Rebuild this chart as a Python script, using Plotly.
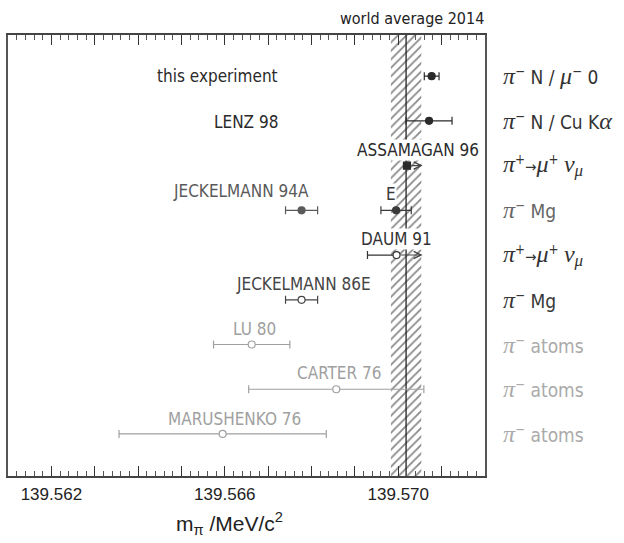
import plotly.graph_objects as go

# ---------------- data ----------------
experiments = ["this experiment", "LENZ 98", "ASSAMAGAN 96", "JECKELMANN 94A", "E",
               "DAUM 91", "JECKELMANN 86E", "LU 80", "CARTER 76", "MARUSHENKO 76"]
row_index = [0, 1, 2, 3, 3, 4, 5, 6, 7, 8]
mass = [139.57077, 139.57071, 139.57020, 139.56777, 139.56995,
        139.56996, 139.56777, 139.56662, 139.56857, 139.56595]
err_minus = [0.00017, 0.00053, 0.0, 0.00037, 0.00035,
             0.00067, 0.00037, 0.00088, 0.00202, 0.00239]
err_plus = [0.00017, 0.00053, 0.0, 0.00037, 0.00035,
            0.0, 0.00037, 0.00088, 0.00202, 0.00239]
arrow_to = [None, None, 139.57056, None, None, 139.57056, None, None, None, None]
filled = [True, True, True, True, True, False, False, False, False, False]

methods = ["π⁻ N / μ⁻ 0", "π⁻ N / Cu Kα", "π⁺→μ⁺ν_μ", "π⁻ Mg", "π⁺→μ⁺ν_μ",
           "π⁻ Mg", "π⁻ atoms", "π⁻ atoms", "π⁻ atoms"]

world_avg = 139.57018
world_err = 0.00035

tick_labels = ["139.562", "139.566", "139.570"]

# ---------------- styling / layout ----------------
X_RANGE = [139.561, 139.572]
Y_RANGE = [8.94, -0.92]
NARROW = "Liberation Sans Narrow, DejaVu Sans Condensed, Arial Narrow, sans-serif"
SANS = "Liberation Sans, Arial, sans-serif"
SERIF_I = "font-family:Liberation Serif, Times New Roman, serif;font-style:italic;font-size:24px"

exp_colors = ["#2a2a2a", "#2a2a2a", "#2a2a2a", "#5a5a5a", "#3a3a3a",
              "#333333", "#454545", "#a0a0a0", "#a0a0a0", "#a0a0a0"]
symbols = ["circle", "circle", "square", "circle", "circle",
           "circle", "circle", "circle", "circle", "circle"]
label_x = [139.56582, 139.56649, 139.57045, 139.56637, 139.56983,
           139.56996, 139.56782, 139.56669, 139.56863, 139.56623]
label_yshift = [0, -1, 16, 19, 16, 16, 16, 16, 16, 15]
label_bg = [None, None, "white", None, "white", "white", None, None, None, None]

method_colors = ["#333333", "#333333", "#333333", "#666666", "#333333",
                 "#383838", "#aaaaaa", "#aaaaaa", "#aaaaaa"]


def method_html(m):
    pi = f"<span style='{SERIF_I}'>π</span>"
    mu = f"<span style='{SERIF_I}'>μ</span>"
    nu = f"<span style='{SERIF_I}'>ν</span>"
    mus = "<span style='font-family:Liberation Serif, serif;font-style:italic;font-size:17px'>μ</span>"
    if m.startswith("π⁺"):
        return f"{pi}<sup>+</sup><span style='font-size:15px'>→</span>{mu}<sup>+</sup> {nu}<sub>{mus}</sub>"
    rest = m[2:]
    rest = rest.replace("μ⁻", f"{mu}<sup>−</sup>").replace("Kα", f"K<span style='{SERIF_I}'>α</span>")
    return f"{pi}<sup>−</sup>{rest}"


fig = go.Figure()

# hatched world-average band
lo, hi = world_avg - world_err, world_avg + world_err
fig.add_trace(go.Scatter(
    x=[lo, hi, hi, lo, lo], y=[Y_RANGE[1], Y_RANGE[1], Y_RANGE[0], Y_RANGE[0], Y_RANGE[1]],
    mode="lines", line=dict(width=0, color="rgba(0,0,0,0)"),
    fill="toself", fillcolor="white",
    fillpattern=dict(shape="/", size=6, solidity=0.3, fgcolor="#111111", bgcolor="white"),
    hoverinfo="skip", showlegend=False))
fig.add_trace(go.Scatter(
    x=[world_avg, world_avg], y=[Y_RANGE[1], Y_RANGE[0]], mode="lines",
    line=dict(color="#222222", width=1.3), hoverinfo="skip", showlegend=False))

# measurements
for i, name in enumerate(experiments):
    c = exp_colors[i]
    has_err = err_minus[i] > 0 or err_plus[i] > 0
    fig.add_trace(go.Scatter(
        x=[mass[i]], y=[row_index[i]], mode="markers", name=name,
        marker=dict(symbol=symbols[i], size=7,
                    color=c if filled[i] else "white",
                    line=dict(color=c, width=1.2)),
        error_x=dict(type="data", symmetric=False, array=[err_plus[i]],
                     arrayminus=[err_minus[i]], color=c, thickness=1.2, width=4,
                     visible=has_err),
        showlegend=False))

annotations = []
# arrows for the pi+ -> mu+ nu limits
for i, end in enumerate(arrow_to):
    if end is None:
        continue
    annotations.append(dict(
        x=end, y=row_index[i], xref="x", yref="y", ax=mass[i], ay=row_index[i],
        axref="x", ayref="y", text="", showarrow=True, arrowhead=5, arrowsize=1.3,
        arrowwidth=1.1, arrowcolor="#444444", standoff=0, startstandoff=3))

# experiment labels
for i, name in enumerate(experiments):
    a = dict(x=label_x[i], y=row_index[i], xref="x", yref="y", text=name,
             showarrow=False, yshift=label_yshift[i], xanchor="center", yanchor="middle",
             font=dict(family=NARROW, size=17, color=exp_colors[i]), borderpad=0)
    if label_bg[i]:
        a["bgcolor"] = label_bg[i]
    annotations.append(a)

# method labels on the right
for r, m in enumerate(methods):
    annotations.append(dict(
        x=1, y=r, xref="paper", yref="y", xshift=16, xanchor="left", yanchor="middle",
        text=method_html(m), showarrow=False,
        font=dict(family=NARROW, size=19, color=method_colors[r])))

annotations.append(dict(
    x=0.847, y=1, xref="paper", yref="paper", yshift=17, xanchor="center", yanchor="middle",
    text="world average 2014", showarrow=False,
    font=dict(family=NARROW, size=16, color="#222222")))
annotations.append(dict(
    x=0.465, y=0, xref="paper", yref="paper", yshift=-47, xanchor="center", yanchor="middle",
    text="m<sub>π</sub> /MeV/c<sup>2</sup>", showarrow=False,
    font=dict(family=SANS, size=21, color="#222222")))

major_ticks = [round(X_RANGE[0] + 0.001 * k, 3) for k in range(12)]
major_text = [f"{v:.3f}" if f"{v:.3f}" in tick_labels else "" for v in major_ticks]

fig.update_layout(
    width=624, height=543, margin=dict(l=8, r=139, t=35, b=67),
    paper_bgcolor="white", plot_bgcolor="white",
    annotations=annotations,
    xaxis=dict(range=X_RANGE, tickmode="array", tickvals=major_ticks, ticktext=major_text,
               ticks="inside", ticklen=10, tickwidth=1.2, tickcolor="#333333",
               minor=dict(dtick=0.0002, tick0=139.56, ticks="inside", ticklen=5,
                          tickwidth=1, tickcolor="#555555"),
               showline=True, linecolor="#444444", linewidth=1.5, mirror="allticks",
               showgrid=False, zeroline=False, ticklabelstandoff=2,
               tickfont=dict(family=SANS, size=17, color="#222222")),
    yaxis=dict(range=Y_RANGE, showticklabels=False, ticks="", showgrid=False,
               zeroline=False, showline=True, linecolor="#555555", linewidth=1.8,
               mirror=True),
)

fig.write_html("out.html", config={"displayModeBar": False},
               post_script="document.body.style.margin='0px';document.body.style.padding='0px';")
